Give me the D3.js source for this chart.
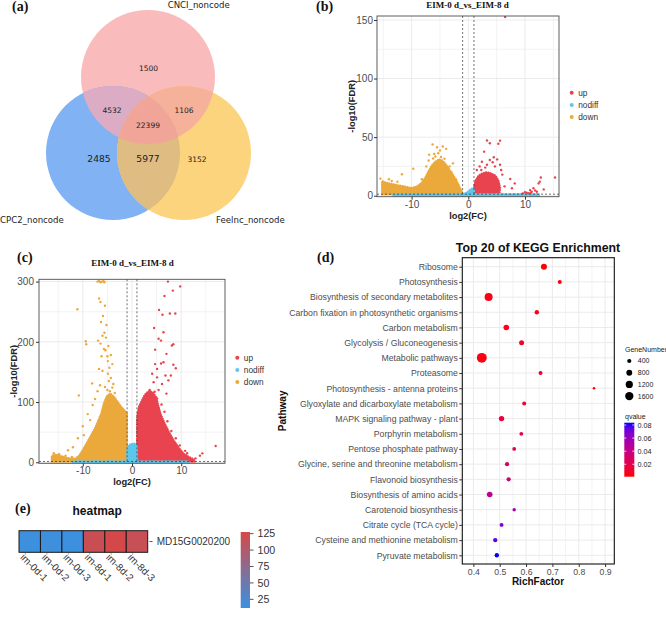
<!DOCTYPE html>
<html>
<head>
<meta charset="utf-8">
<script src="https://cdn.jsdelivr.net/npm/d3@7"></script>
<style>
body { margin: 0; background: #fff; }
svg { display: block; }
</style>
</head>
<body>
<div id="chart"></div>
<script>
// DATA
// (a) venn: set names and region counts
const vennSets = ["CNCI_noncode", "CPC2_noncode", "Feelnc_noncode"]
// CNCI only, CPC2 only, Feelnc only, CNCI&CPC2, CNCI&Feelnc, CPC2&Feelnc, all three
const vennCounts = [1500, 2485, 3152, 4532, 1106, 5977, 22399]

// (b) and (c) volcano plots, [log2(FC), -log10(FDR)]
const volcanoTitle = "EIM-0 d_vs_EIM-8 d"
const volcanoGroups = ["up", "nodiff", "down"]
const fdrCut = 0.05
const fcCut = 1

// dense clouds of points read as outlines, plus the loose points around them
const bDownCloud = [[-15.2,1.3],[-15.2,12.5],[-14.5,11],[-13,9.5],[-11.5,8],[-10,6.5],[-9,8],[-8.2,11],[-7.5,16],[-7,21],[-6.4,26],[-5.8,29],[-5.2,31],[-4.6,30],[-4,27],[-3.3,22],[-2.6,17],[-2,12],[-1.5,7],[-1.1,3],[-1.05,1.3]]
const bUpCloud = [[1.05,1.3],[1.05,8],[1.3,13],[1.8,17],[2.5,19],[3.3,20],[4,19],[4.8,17],[5.3,13],[5.6,7],[5.5,1.3]]
const bNodiffCloud = [[-13.2,0],[12.5,0],[12.5,1.3],[1,1.3],[1,5.5],[0.6,6],[0,3.5],[-0.5,2],[-1,1.3],[-13.2,1.3]]
const bDownPoints = [[-6.3,43.7],[-5.5,41.4],[-5.0,38.6],[-4.5,42],[-3.9,40],[-6.9,35],[-6.0,35.7],[-5.3,36.3],[-6.2,31.7],[-4.8,33],[-4.2,31.5],[-2.7,27.6],[-9.7,23],[-11.7,18.3],[-14.0,14],[-15.5,14.6],[-7.4,25],[-3.3,25],[-8.2,14],[-12.5,12],[-13.5,12.5],[-3,20],[-2.2,14],[-7,30],[-5.8,33.5]]
const bUpPoints = [[3.3,47.1],[3.8,44.8],[5.6,47],[5.3,44.3],[2.8,37.6],[4.5,32.8],[3.8,30.5],[5.1,31],[2.4,29],[4.3,28.6],[4.7,25],[3.3,26.4],[5.6,26.4],[2.3,22],[5.8,22],[6.5,152.6],[7.4,14.2],[8.2,10.5],[7.7,6.3],[10.3,2.6],[10.9,4.8],[11.5,6.3],[11.2,3.4],[12.4,10.5],[12.6,12],[12.8,15.6],[13.3,5.4],[15.3,15.6],[12.1,3.4],[10,3],[10.6,2.2],[11.8,4.5],[9.6,2],[11,2.5],[6,18],[6.4,8],[1.5,22],[3,24],[2,25]]

const cDownCloud = [[-16.3,1.3],[-16.3,11],[-15.3,12.5],[-14,9],[-12.8,6.5],[-11.5,6],[-10.7,11],[-10.1,19],[-9.3,30],[-8.5,42],[-7.6,55],[-6.9,68],[-6.2,82],[-5.7,98],[-5.1,110],[-4.4,114],[-3.6,108],[-3,101],[-2.3,93],[-1.6,87],[-1.05,82],[-1.05,1.3]]
const cUpCloud = [[1.05,1.3],[1.05,75],[1.4,92],[2,102],[2.6,112],[3.4,118],[4.2,116],[4.9,108],[5.3,95],[5.8,80],[6.6,65],[7.5,50],[8.5,36],[9.5,24],[10.5,14],[11.5,9],[12.5,5],[12.8,1.3]]
const cNodiffCloud = [[-12,0],[11.5,0],[11.5,1.3],[1,1.3],[1,27],[0.6,31],[-0.3,30],[-0.9,26],[-1,1.3],[-12,1.3]]
const cDownPoints = [[-15.9,15],[-14.8,13.5],[-13.5,11],[-12.2,9],[-11.1,254],[-6.7,272],[-6.4,266],[-5.5,260],[-5.9,243],[-5.2,228],[-6.0,210],[-9.4,201],[-9.3,196],[-6.9,202],[-6.4,197],[-5.7,188],[-5.4,186],[-4.3,178],[-4.9,168],[-4.6,157],[-4.0,163],[-6.7,155],[-6.0,152],[-8.1,131],[-4.9,147],[-4.3,140],[-4.7,135],[-4.0,124],[-4.5,118],[-10.8,111],[-7,300],[-6.7,301],[-6.4,299],[-6.1,300],[-5.8,301],[-5.6,299],[-5.0,120],[-5.5,125],[-6.5,128],[-7.5,105],[-8,95],[-9,80],[-10,60],[-11,40],[-12,25],[-13,20],[-6.3,233],[-5.6,215],[-5.3,207],[-4.8,193],[-5.0,176],[-6.2,176],[-3.8,130],[-3.5,115],[-7,118],[-8.5,70],[-9.8,45]]
const cUpPoints = [[7.3,300],[8.3,285],[9.8,292],[6.6,276],[5.5,253],[7.7,247],[8.8,247],[6.2,245],[4.5,223],[6.4,216],[5.4,205],[5.9,202],[8.1,194],[8.4,196],[4.7,187],[7.0,180],[4.7,163],[5.9,164],[6.4,166],[8.4,162],[8.9,156],[5.1,155],[4.1,147],[5.1,141],[6.8,144],[7.9,144],[4.4,133],[6.1,130],[7.4,136],[3.6,120],[4.6,117],[5.4,120],[3.1,114],[7.0,114],[4.1,109],[5.1,106],[12.9,6.5],[14.3,14.8],[13.8,11],[17,27],[11.2,15],[10.8,19],[9.7,28],[8.9,40],[8,52],[7.2,68],[6.6,84],[6,96]]

// (d) KEGG enrichment
const keggTitle = "Top 20 of KEGG Enrichment"
const pathways = ["Ribosome", "Photosynthesis", "Biosynthesis of secondary metabolites", "Carbon fixation in photosynthetic organisms", "Carbon metabolism", "Glycolysis / Gluconeogenesis", "Metabolic pathways", "Proteasome", "Photosynthesis - antenna proteins", "Glyoxylate and dicarboxylate metabolism", "MAPK signaling pathway - plant", "Porphyrin metabolism", "Pentose phosphate pathway", "Glycine, serine and threonine metabolism", "Flavonoid biosynthesis", "Biosynthesis of amino acids", "Carotenoid biosynthesis", "Citrate cycle (TCA cycle)", "Cysteine and methionine metabolism", "Pyruvate metabolism"]
const richFactor = [0.668, 0.728, 0.458, 0.641, 0.525, 0.583, 0.432, 0.655, 0.858, 0.593, 0.507, 0.582, 0.555, 0.528, 0.534, 0.462, 0.555, 0.507, 0.483, 0.489]
const geneNumber = [830, 370, 1470, 445, 720, 575, 2250, 370, 155, 370, 670, 330, 330, 420, 420, 720, 270, 350, 440, 440]
const qvalue = [0.002, 0.002, 0.004, 0.006, 0.008, 0.010, 0.003, 0.012, 0.001, 0.015, 0.016, 0.019, 0.023, 0.030, 0.035, 0.045, 0.056, 0.068, 0.075, 0.0835]
const richTicks = [0.4, 0.5, 0.6, 0.7, 0.8, 0.9]
const geneLegend = [400, 800, 1200, 1600]
const qTicks = [0.02, 0.04, 0.06, 0.08]

// (e) heatmap
const heatGene = "MD15G0020200"
const heatSamples = ["im-0d-1", "im-0d-2", "im-0d-3", "im-8d-1", "im-8d-2", "im-8d-3"]
const heatValues = [14, 15, 13, 118, 127, 117]
const heatTicks = [25, 50, 75, 100, 125]


// SETUP
const SANS = "'Liberation Sans', Arial, sans-serif"
const SERIF = "'Liberation Serif', 'Times New Roman', serif"
const DEJA = "'DejaVu Sans', sans-serif"
const svg = d3.select("#chart").append("svg").attr("width", 666).attr("height", 619)
svg.append("rect").attr("width", 666).attr("height", 619).attr("fill", "#fff")
const defs = svg.append("defs")

// panel letters
const letters = [["(a)", 12, 10.5], ["(b)", 316, 10.5], ["(c)", 17, 262], ["(d)", 317, 262], ["(e)", 15, 512.5]]
svg.selectAll(".letter").data(letters).join("text")
  .attr("x", d => d[1]).attr("y", d => d[2]).text(d => d[0])
  .style("font", `bold 14px ${SERIF}`).attr("fill", "#111")


// (a) VENN
const vc = [
  { cx: 148, cy: 77, r: 67, fill: "#F9BBBB" },
  { cx: 113, cy: 153, r: 67, fill: "#80B2F4" },
  { cx: 184, cy: 153, r: 67, fill: "#FCD47D" }
]
vc.forEach((c, i) => {
  defs.append("clipPath").attr("id", "venn" + i).append("circle").attr("cx", c.cx).attr("cy", c.cy).attr("r", c.r)
})
const venn = svg.append("g")
vc.forEach(c => venn.append("circle").attr("cx", c.cx).attr("cy", c.cy).attr("r", c.r).attr("fill", c.fill))
// pairwise overlaps, then the centre
const pairs = [[0, 1, "#DCABC4"], [0, 2, "#F6B19A"], [1, 2, "#DEBC82"]]
pairs.forEach(([a, b, col]) => {
  venn.append("circle").attr("cx", vc[b].cx).attr("cy", vc[b].cy).attr("r", vc[b].r)
    .attr("clip-path", `url(#venn${a})`).attr("fill", col)
})
venn.append("g").attr("clip-path", "url(#venn0)")
  .append("circle").attr("cx", vc[2].cx).attr("cy", vc[2].cy).attr("r", vc[2].r)
  .attr("clip-path", "url(#venn1)").attr("fill", "#F1A498")

const vennPos = [[148.5, 68.5, 7.5], [99, 158.5, 9.2], [197, 159, 7.5], [112, 110, 7.5], [184, 110, 7.5], [148, 158.5, 9.2], [148, 125, 7.5]]
venn.selectAll(".vn").data(vennCounts).join("text")
  .attr("x", (d, i) => vennPos[i][0]).attr("y", (d, i) => vennPos[i][1]).attr("dy", "0.36em")
  .attr("text-anchor", "middle").style("font-family", DEJA).style("font-size", (d, i) => vennPos[i][2] + "px")
  .attr("fill", "#222").text(d => d)
const setPos = [[198.7, 7.5, "middle"], [0, 223, "start"], [216, 223, "start"]]
venn.selectAll(".vs").data(vennSets).join("text")
  .attr("x", (d, i) => setPos[i][0]).attr("y", (d, i) => setPos[i][1]).attr("text-anchor", (d, i) => setPos[i][2])
  .style("font", `8.6px ${DEJA}`).attr("fill", "#222").text(d => d)


// VOLCANO
const groupColor = { up: "#E8434E", nodiff: "#5DC6EC", down: "#EBA93B" }

function volcano(p) {
  const x = d3.scaleLinear().domain(p.xDomain).range([p.left, p.right])
  const y = d3.scaleLinear().domain(p.yDomain).range([p.bottom, p.top])
  const g = svg.append("g")
  defs.append("clipPath").attr("id", p.id).append("rect")
    .attr("x", p.left).attr("y", p.top).attr("width", p.right - p.left).attr("height", p.bottom - p.top)

  // grid lines, major at ticks and minor between them
  const gx = d3.range(Math.ceil(p.xDomain[0] / p.xMinor) * p.xMinor, p.xDomain[1], p.xMinor)
  const gy = d3.range(Math.ceil(p.yDomain[0] / p.yMinor) * p.yMinor, p.yDomain[1], p.yMinor)
  g.selectAll(".gx").data(gx).join("line")
    .attr("x1", d => x(d)).attr("x2", d => x(d)).attr("y1", p.top).attr("y2", p.bottom)
    .attr("stroke", "#EBEBEB").attr("stroke-width", d => p.xTicks.includes(d) ? 1 : 0.6)
  g.selectAll(".gy").data(gy).join("line")
    .attr("y1", d => y(d)).attr("y2", d => y(d)).attr("x1", p.left).attr("x2", p.right)
    .attr("stroke", "#EBEBEB").attr("stroke-width", d => p.yTicks.includes(d) ? 1 : 0.6)

  const plot = g.append("g").attr("clip-path", `url(#${p.id})`)
  const line = d3.line().x(d => x(d[0])).y(d => y(d[1]))
  // dense clouds: solid fill with a dotted rim so the edge looks like points
  p.clouds.forEach(([pts, grp]) => {
    plot.append("path").attr("d", line(pts) + "Z")
      .attr("fill", groupColor[grp]).attr("stroke", groupColor[grp])
      .attr("stroke-width", 2.4).attr("stroke-linecap", "round").attr("stroke-linejoin", "round")
      .attr("stroke-dasharray", "0.01,2.3")
  })
  p.points.forEach(([pts, grp]) => {
    plot.append("g").selectAll("circle").data(pts).join("circle")
      .attr("cx", d => x(d[0])).attr("cy", d => y(d[1])).attr("r", 1.2)
      .attr("fill", groupColor[grp])
  })

  // thresholds
  const dash = { stroke: "#333", "stroke-width": 0.7, "stroke-dasharray": "2,2" }
  ;[-fcCut, fcCut].forEach(v => {
    const l = g.append("line").attr("x1", x(v)).attr("x2", x(v)).attr("y1", p.top).attr("y2", p.bottom)
    Object.entries(dash).forEach(([k, val]) => l.attr(k, val))
  })
  const h = g.append("line").attr("x1", p.left).attr("x2", p.right)
    .attr("y1", y(-Math.log10(fdrCut))).attr("y2", y(-Math.log10(fdrCut)))
  Object.entries(dash).forEach(([k, val]) => h.attr(k, val))

  g.append("rect").attr("x", p.left).attr("y", p.top).attr("width", p.right - p.left).attr("height", p.bottom - p.top)
    .attr("fill", "none").attr("stroke", "#4D4D4D").attr("stroke-width", 0.9)

  // axes
  const xa = g.append("g").attr("transform", `translate(0,${p.bottom})`)
    .call(d3.axisBottom(x).tickValues(p.xTicks).tickSize(3).tickPadding(1).tickFormat(d => d))
  const ya = g.append("g").attr("transform", `translate(${p.left},0)`)
    .call(d3.axisLeft(y).tickValues(p.yTicks).tickSize(3).tickPadding(p.yPad).tickFormat(d => d))
  ;[xa, ya].forEach(a => {
    a.select(".domain").remove()
    a.selectAll("line").attr("stroke", "#333")
    a.selectAll("text").attr("fill", "#4D4D4D").style("font", `10px ${SANS}`)
  })

  // titles
  g.append("text").attr("x", p.titleX).attr("y", p.titleY).attr("text-anchor", "middle")
    .style("font", `bold 9px ${SERIF}`).attr("fill", "#111").text(volcanoTitle)
  g.append("text").attr("x", (p.left + p.right) / 2).attr("y", p.xLabelY).attr("text-anchor", "middle")
    .style("font", `bold 9.3px ${SANS}`).attr("fill", "#222").text("log2(FC)")
  g.append("text").attr("transform", `translate(${p.yLabelX},${(p.top + p.bottom) / 2}) rotate(-90)`)
    .attr("dy", "0.35em").attr("text-anchor", "middle")
    .style("font", `bold 9.3px ${SANS}`).attr("fill", "#222").text("-log10(FDR)")

  // legend
  const lg = g.append("g").selectAll("g").data(volcanoGroups).join("g")
    .attr("transform", (d, i) => `translate(${p.legendX},${p.legendY + i * 12.2})`)
  lg.append("circle").attr("r", 2).attr("fill", d => groupColor[d])
  lg.append("text").attr("x", 6.5).attr("dy", "0.35em").style("font", `8.3px ${SANS}`).attr("fill", "#333").text(d => d)
}

volcano({
  id: "volB", left: 377, right: 559, top: 16, bottom: 196.7,
  xDomain: [-16.1, 16], yDomain: [-0.85, 153.4], xTicks: [-10, 0, 10], yTicks: [0, 50, 100, 150],
  xMinor: 5, yMinor: 25, yPad: 1,
  clouds: [[bDownCloud, "down"], [bUpCloud, "up"], [bNodiffCloud, "nodiff"]],
  points: [[bDownPoints, "down"], [bUpPoints, "up"]],
  titleX: 467.5, titleY: 7.6, xLabelY: 218.5, yLabelX: 352,
  legendX: 571.7, legendY: 92.7
})

volcano({
  id: "volC", left: 39, right: 225, top: 279.3, bottom: 463.3,
  xDomain: [-18.9, 18.9], yDomain: [-1.7, 303.8], xTicks: [-10, 0, 10], yTicks: [0, 100, 200, 300],
  xMinor: 5, yMinor: 50, yPad: 2,
  clouds: [[cDownCloud, "down"], [cUpCloud, "up"], [cNodiffCloud, "nodiff"]],
  points: [[cDownPoints, "down"], [cUpPoints, "up"]],
  titleX: 132.5, titleY: 265.6, xLabelY: 485, yLabelX: 13.3,
  legendX: 237.3, legendY: 357.7
})


// (d) KEGG DOT PLOT
const kL = 462.3, kR = 614.3, kT = 257.7, kB = 564
const kx = d3.scaleLinear().domain([0.358, 0.935]).range([kL, kR])
const ky = d3.scalePoint().domain(pathways).range([266.7, 555.3])
const kSize = d3.scaleSqrt().domain([0, 2300]).range([0, 5])
const qDomain = d3.extent(qvalue)
const kColor = d3.scaleLinear().domain(qDomain).range(["red", "blue"]).interpolate(d3.interpolateLab)
const kegg = svg.append("g")

const minorRich = d3.range(7, 19).map(i => i * 0.05)
kegg.selectAll(".kgx").data(minorRich).join("line")
  .attr("x1", d => kx(d)).attr("x2", d => kx(d)).attr("y1", kT).attr("y2", kB)
  .attr("stroke", "#EBEBEB").attr("stroke-width", (d, i) => i % 2 ? 1 : 0.6)
kegg.selectAll(".kgy").data(pathways).join("line")
  .attr("y1", d => ky(d)).attr("y2", d => ky(d)).attr("x1", kL).attr("x2", kR)
  .attr("stroke", "#EBEBEB").attr("stroke-width", 1)

kegg.append("g").selectAll("circle").data(pathways).join("circle")
  .attr("cx", (d, i) => kx(richFactor[i])).attr("cy", d => ky(d))
  .attr("r", (d, i) => kSize(geneNumber[i])).attr("fill", (d, i) => kColor(qvalue[i]))

kegg.append("rect").attr("x", kL).attr("y", kT).attr("width", kR - kL).attr("height", kB - kT)
  .attr("fill", "none").attr("stroke", "#111").attr("stroke-width", 1.1)

const kxa = kegg.append("g").attr("transform", `translate(0,${kB})`)
  .call(d3.axisBottom(kx).tickValues(richTicks).tickSize(3).tickPadding(1.5).tickFormat(d3.format(".1f")))
const kya = kegg.append("g").attr("transform", `translate(${kL},0)`)
  .call(d3.axisLeft(ky).tickSize(3).tickPadding(1.5))
;[kxa, kya].forEach(a => {
  a.select(".domain").remove()
  a.selectAll("line").attr("stroke", "#333")
  a.selectAll("text").attr("fill", "#4D4D4D").style("font", `8.7px ${SANS}`)
})

kegg.append("text").attr("x", 538).attr("y", 251.6).attr("text-anchor", "middle")
  .style("font", `bold 12.3px ${SANS}`).attr("fill", "#111").text(keggTitle)
kegg.append("text").attr("x", 538).attr("y", 585.3).attr("text-anchor", "middle")
  .style("font", `bold 10px ${SANS}`).attr("fill", "#111").text("RichFactor")
kegg.append("text").attr("transform", `translate(282.5,${(kT + kB) / 2}) rotate(-90)`)
  .attr("dy", "0.35em").attr("text-anchor", "middle")
  .style("font", `bold 10px ${SANS}`).attr("fill", "#111").text("Pathway")

// size legend
kegg.append("text").attr("x", 625).attr("y", 351.5).style("font", `7px ${SANS}`).attr("fill", "#222").text("GeneNumber")
const sl = kegg.append("g").selectAll("g").data(geneLegend).join("g")
  .attr("transform", (d, i) => `translate(629.3,${361 + i * 11.7})`)
sl.append("circle").attr("r", d => kSize(d)).attr("fill", "#000")
sl.append("text").attr("x", 8.5).attr("dy", "0.35em").style("font", `7px ${SANS}`).attr("fill", "#222").text(d => d)

// colour legend
kegg.append("text").attr("x", 625).attr("y", 418.5).style("font", `7px ${SANS}`).attr("fill", "#222").text("qvalue")
const qy = d3.scaleLinear().domain(qDomain).range([476.7, 422.7])
const qGrad = defs.append("linearGradient").attr("id", "qGrad").attr("x1", 0).attr("x2", 0).attr("y1", 1).attr("y2", 0)
d3.range(0, 1.0001, 0.1).forEach(t => {
  qGrad.append("stop").attr("offset", t).attr("stop-color", kColor(qDomain[0] + t * (qDomain[1] - qDomain[0])))
})
kegg.append("rect").attr("x", 624.3).attr("y", 422.7).attr("width", 10).attr("height", 54).attr("fill", "url(#qGrad)")
const qt = kegg.append("g").selectAll("g").data(qTicks).join("g").attr("transform", d => `translate(0,${qy(d)})`)
qt.append("line").attr("x1", 624.3).attr("x2", 626.3).attr("stroke", "#fff").attr("stroke-width", 0.8)
qt.append("line").attr("x1", 632.3).attr("x2", 634.3).attr("stroke", "#fff").attr("stroke-width", 0.8)
qt.append("text").attr("x", 637.5).attr("dy", "0.35em").style("font", `7.2px ${SANS}`).attr("fill", "#222").text(d => d.toFixed(2))


// (e) HEATMAP
const hx = d3.scaleBand().domain(heatSamples).range([19, 147.7])
const hTop = 530.7, hH = 21.6
const hDomain = [11.8, 127.5]
const hColor = d3.scaleLinear().domain(hDomain).range(["#3A91E0", "#D54848"])
const heat = svg.append("g")
heat.append("text").attr("x", 97.2).attr("y", 514.9).attr("text-anchor", "middle")
  .style("font", `bold 12px ${SANS}`).attr("fill", "#111").text("heatmap")
heat.selectAll("rect.cell").data(heatSamples).join("rect").attr("class", "cell")
  .attr("x", d => hx(d)).attr("y", hTop).attr("width", hx.bandwidth()).attr("height", hH)
  .attr("fill", (d, i) => hColor(heatValues[i])).attr("stroke", "#1a1a1a").attr("stroke-width", 1)
heat.append("line").attr("x1", 149.5).attr("x2", 152.5).attr("y1", hTop + hH / 2).attr("y2", hTop + hH / 2).attr("stroke", "#555")
heat.append("text").attr("x", 156.7).attr("y", hTop + hH / 2).attr("dy", "0.35em")
  .style("font", `10px ${SANS}`).attr("fill", "#333").text(heatGene)
heat.selectAll("text.sample").data(heatSamples).join("text").attr("class", "sample")
  .attr("transform", d => `translate(${hx(d) + hx.bandwidth() / 2 - 10},558) rotate(45)`)
  .style("font", `10px ${SANS}`).attr("fill", "#333").text(d => d)

const hy = d3.scaleLinear().domain(hDomain).range([608, 532])
const hGrad = defs.append("linearGradient").attr("id", "hGrad").attr("x1", 0).attr("x2", 0).attr("y1", 1).attr("y2", 0)
d3.range(0, 1.0001, 0.1).forEach(t => {
  hGrad.append("stop").attr("offset", t).attr("stop-color", hColor(hDomain[0] + t * (hDomain[1] - hDomain[0])))
})
heat.append("rect").attr("x", 240.7).attr("y", 532).attr("width", 9.3).attr("height", 76).attr("fill", "url(#hGrad)")
const ht = heat.append("g").selectAll("g").data(heatTicks).join("g").attr("transform", d => `translate(0,${hy(d)})`)
ht.append("line").attr("x1", 250).attr("x2", 253.5).attr("stroke", "#555")
ht.append("text").attr("x", 257.5).attr("dy", "0.35em").style("font", `10.6px ${SANS}`).attr("fill", "#333").text(d => d)
</script>
</body>
</html>
